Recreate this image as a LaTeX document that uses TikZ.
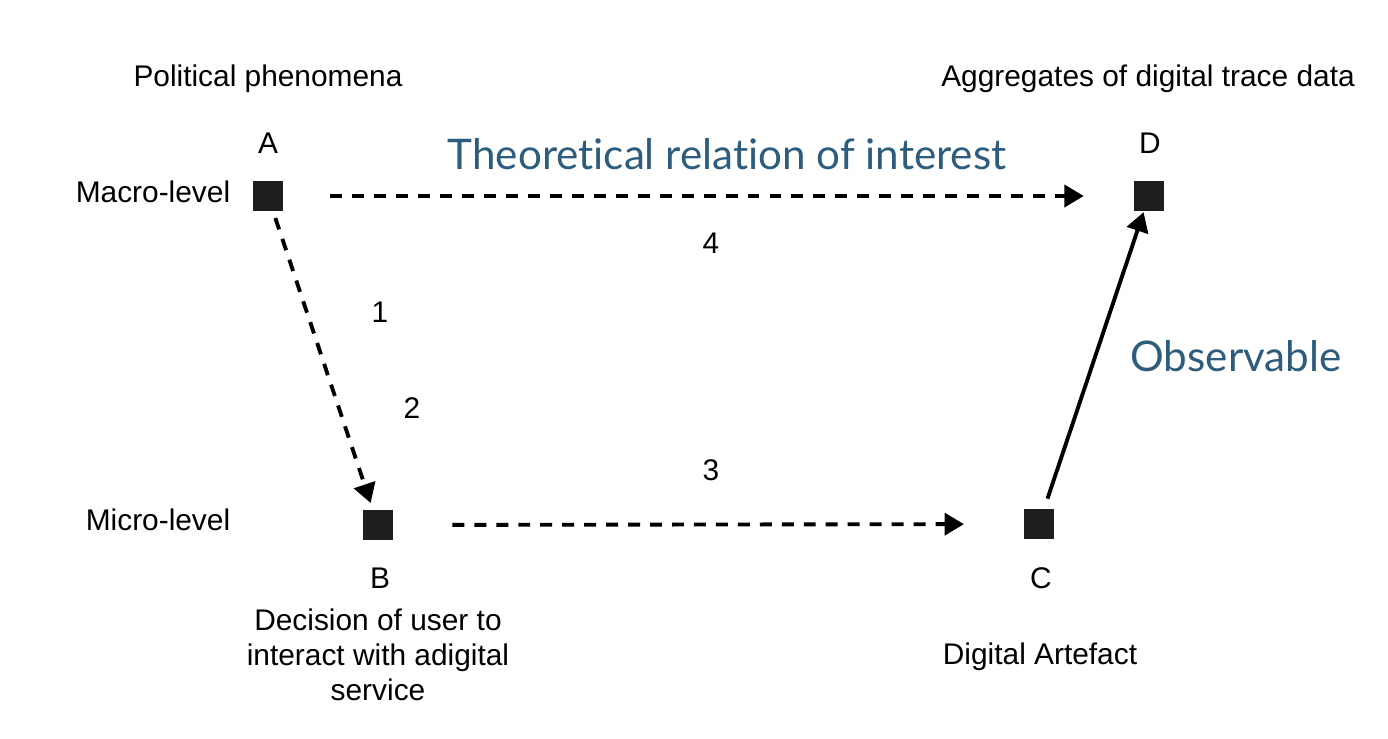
\documentclass[tikz,border=0pt]{standalone}
\usepackage{fontspec}
\setmainfont{Liberation Sans}
\newfontfamily\headfont[Ligatures=NoCommon]{Lato}
\usetikzlibrary{arrows.meta, positioning}
\definecolor{relblue}{RGB}{45,92,124}
\definecolor{boxblack}{RGB}{30,30,30}

\begin{document}
\begin{tikzpicture}[x=0.02cm, y=-0.02cm,
		box/.style={rectangle, fill=boxblack, minimum size=0.6cm, inner sep=0pt},
		txt/.style={inner sep=0pt, font=\fontsize{17}{20}\selectfont},
		bigtxt/.style={inner sep=0pt, text=relblue, font=\headfont\fontsize{24}{28}\selectfont},
		link/.style={line width=2.2pt, -{Triangle[length=11pt, width=12.5pt]}},
		dashlink/.style={link, dash pattern=on 6.8pt off 5.7pt}]
		\useasboundingbox (0,0) rectangle (1388,738);
		% the four points
		\node (a) [box] at (268,196) {};
		\node (b) [box] at (378,525) {};
		\node (c) [box] at (1039,524) {};
		\node (d) [box] at (1149,196) {};
		% names of the points
		\node (alabel) [txt] at (268,143) {A};
		\node (blabel) [txt] at (380,578) {B};
		\node (clabel) [txt] at (1041,578) {C};
		\node (dlabel) [txt] at (1150,143) {D};
		\node (political) [txt] at (268,79) {Political phenomena};
		\node (aggregates) [txt] at (1148,79) {Aggregates of digital trace data};
		\node (decision) [txt, align=center] at (378,655) {Decision of user to\\interact with adigital\\service};
		\node (artefact) [txt] at (1040,657) {Digital Artefact};
		\node (macro) [txt] at (153,192) {Macro-level};
		\node (micro) [txt] at (158,520) {Micro-level};
		% numbers
		\node (one) [txt] at (380,312) {1};
		\node (two) [txt] at (412,408) {2};
		\node (three) [txt] at (711,470) {3};
		\node (four) [txt] at (711,243) {4};
		\node (relation) [bigtxt] at (727,154) {Theoretical relation of interest};
		\node (observable) [bigtxt] at (1236,356) {Observable};
		% arrows
		\draw[dashlink, shorten <=26.7pt, shorten >=28.4pt] (a) -- (d);
		\draw[dashlink, shorten <=4pt, shorten >=4pt] (a) -- (b);
		\draw[dashlink, shorten <=33.6pt, shorten >=34pt] (b) -- (c);
		\draw[link, shorten <=6pt, shorten >=0.5pt] (c) -- (d);
	\end{tikzpicture}
\end{document}
